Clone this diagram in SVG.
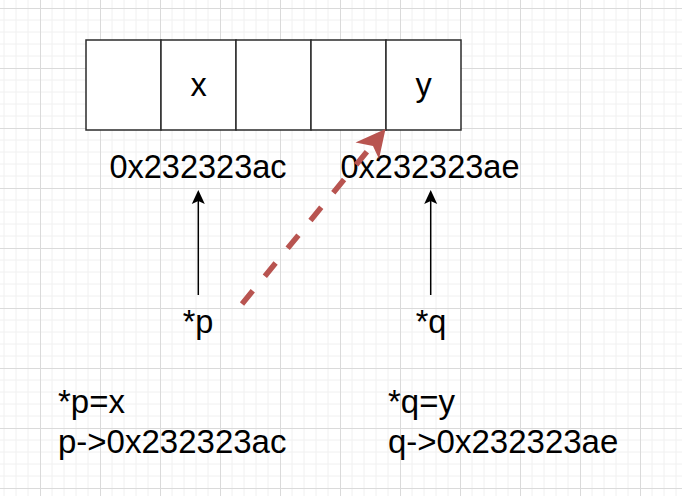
<svg xmlns="http://www.w3.org/2000/svg" width="682" height="496" viewBox="0 0 682 496">
<defs>
<pattern id="grid" x="40" y="8" width="60" height="60" patternUnits="userSpaceOnUse">
<path d="M12 0V60M24 0V60M36 0V60M48 0V60M0 12H60M0 24H60M0 36H60M0 48H60" stroke="#f0f0f0" stroke-width="1" fill="none"/>
<path d="M0.5 0V60M0 0.5H60" stroke="#dadada" stroke-width="1" fill="none"/>
</pattern>
<style>
.cell{fill:#fff;stroke:#2b2b2b;stroke-width:1.5}
.t{font-family:"Liberation Sans",Arial,sans-serif;font-size:32.5px;fill:#000}
.b{font-family:"Liberation Sans",Arial,sans-serif;font-size:33px;fill:#000}
.ptr{stroke:#000;stroke-width:1.5;fill:none}
</style>
</defs>
<rect width="682" height="496" fill="#fff"/>
<rect width="682" height="496" fill="url(#grid)"/>
<g id="memory">
<rect class="cell" x="86" y="40" width="75" height="90"/>
<rect class="cell" x="161" y="40" width="75" height="90"/>
<rect class="cell" x="236" y="40" width="75" height="90"/>
<rect class="cell" x="311" y="40" width="75" height="90"/>
<rect class="cell" x="386" y="40" width="75" height="90"/>
<text class="t" x="198.5" y="96" text-anchor="middle">x</text>
<text class="t" x="423.5" y="96" text-anchor="middle">y</text>
</g>
<g id="addr-p"><text class="t" x="198" y="178" text-anchor="middle">0x232323ac</text></g>
<g id="addr-q"><text class="t" x="430" y="178" text-anchor="middle">0x232323ae</text></g>
<g id="ptr-p"><text class="t" x="198" y="333" text-anchor="middle">*p</text></g>
<g id="ptr-q"><text class="t" x="431" y="333" text-anchor="middle">*q</text></g>
<g id="note-p">
<text class="b" x="58" y="413">*p=x</text>
<text class="b" x="58" y="453">p-&gt;0x232323ac</text>
</g>
<g id="note-q">
<text class="b" x="388" y="413">*q=y</text>
<text class="b" x="388" y="453">q-&gt;0x232323ae</text>
</g>
<g id="connectors">
<line class="ptr" x1="198.3" y1="295" x2="198.3" y2="200"/>
<path d="M198.3 190L204.8 204L198.3 201L191.8 204Z" fill="#000"/>
<line class="ptr" x1="430.7" y1="295" x2="430.7" y2="200"/>
<path d="M430.7 190L437.2 204L430.7 201L424.2 204Z" fill="#000"/>
<line x1="242" y1="304" x2="373" y2="144.2" stroke="#b85450" stroke-width="5.5" stroke-dasharray="17 19"/>
<path d="M385.5 129L379 159L373 146L355.5 142.5Z" fill="#b85450"/>
</g>
</svg>
